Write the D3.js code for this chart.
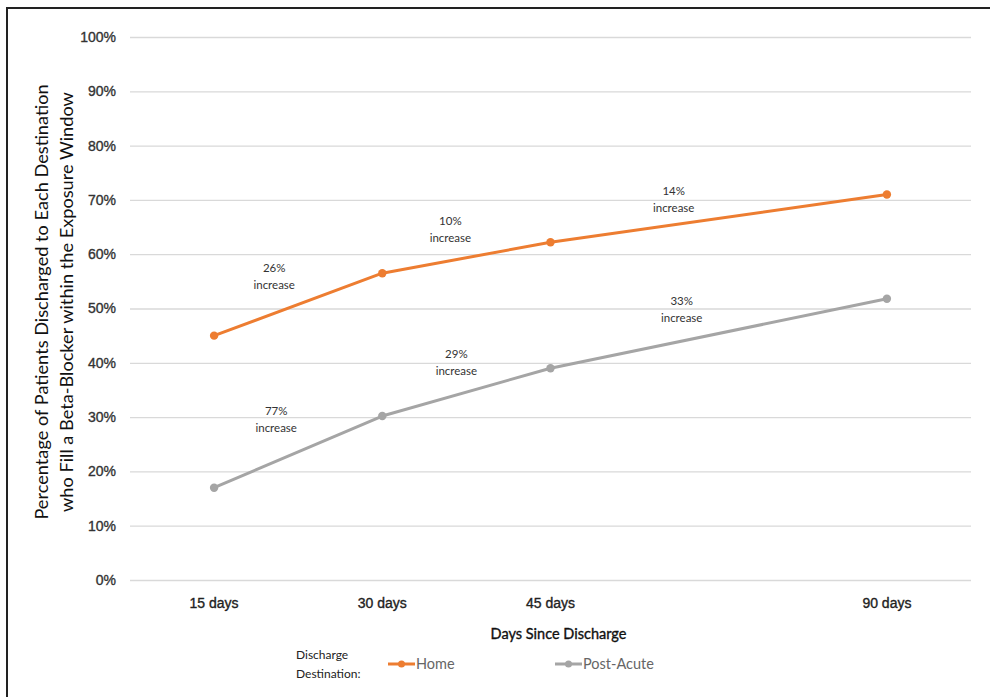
<!DOCTYPE html>
<html>
<head>
<meta charset="utf-8">
<script src="https://cdn.jsdelivr.net/npm/d3@7/dist/d3.min.js"></script>
<style>
  html, body { margin: 0; padding: 0; background: #fff; }
  svg { display: block; font-family: Lato, "Open Sans", sans-serif; }
</style>
</head>
<body>
<svg id="chart" width="990" height="697"></svg>
<script>
// Categories along the x axis (one unlabeled slot keeps 90 days spaced out)
const categories = ["15 days", "30 days", "45 days", "", "90 days"];
const pointDays = ["15 days", "30 days", "45 days", "90 days"];

// Share of patients filling a beta-blocker (%)
const homeValues = [45, 56.5, 62.2, 71];
const postAcuteValues = [17, 30.2, 39, 51.8];

// Relative increase between consecutive time points
const homeIncreases = ["26%", "10%", "14%"];
const postAcuteIncreases = ["77%", "29%", "33%"];

const yTicks = [0, 10, 20, 30, 40, 50, 60, 70, 80, 90, 100];

const series = [
  { name: "Home", values: homeValues, color: "#ED7D31", increases: homeIncreases },
  { name: "Post-Acute", values: postAcuteValues, color: "#A5A5A5", increases: postAcuteIncreases }
];

const svg = d3.select("#chart");

// outer frame
svg.append("rect")
  .attr("x", 7).attr("y", 8).attr("width", 990).attr("height", 700)
  .attr("fill", "none").attr("stroke", "#222").attr("stroke-width", 2);

const plotLeft = 130, plotRight = 971, plotTop = 37, plotBottom = 580;

const x = d3.scaleBand().domain(d3.range(categories.length)).range([plotLeft, plotRight]);
const xPos = label => x(categories.indexOf(label)) + x.bandwidth() / 2;
const y = d3.scaleLinear().domain([0, 100]).range([plotBottom, plotTop]);

// semi-bold look for axis text
const semi = sel => sel.attr("stroke-width", 0.35).attr("paint-order", "fill");

// gridlines + y tick labels
const yAxis = d3.axisLeft(y)
  .tickValues(yTicks)
  .tickSize(-(plotRight - plotLeft))
  .tickPadding(14)
  .tickFormat(d => d + "%");
const gy = svg.append("g").attr("transform", `translate(${plotLeft},0)`).call(yAxis);
gy.select(".domain").remove();
gy.selectAll(".tick line").attr("stroke", "#d9d9d9").attr("stroke-width", 1.3);
gy.selectAll(".tick text")
  .attr("fill", "#333").attr("stroke", "#333").attr("font-size", 14)
  .call(semi);

// x tick labels
const xAxis = d3.axisBottom(x).tickSize(0).tickPadding(18).tickFormat(i => categories[i]);
const gx = svg.append("g").attr("transform", `translate(0,${plotBottom})`).call(xAxis);
gx.select(".domain").remove();
gx.selectAll(".tick text")
  .attr("fill", "#222").attr("stroke", "#222").attr("font-size", 14)
  .call(semi);

// axis titles
svg.append("text")
  .attr("x", (plotLeft + plotRight) / 2 + 8).attr("y", 639)
  .attr("text-anchor", "middle").attr("font-size", 14.5)
  .attr("fill", "#111").attr("stroke", "#111").call(semi)
  .text("Days Since Discharge");

const yTitle = svg.append("text")
  .attr("transform", "translate(0,302) rotate(-90)")
  .attr("text-anchor", "middle").attr("font-size", 18.2).attr("fill", "#111");
yTitle.append("tspan").attr("x", 0).attr("y", 48)
  .text("Percentage of Patients Discharged to Each Destination");
yTitle.append("tspan").attr("x", 0).attr("y", 73)
  .text("who Fill a Beta-Blocker within the Exposure Window");

// lines and markers
const line = d3.line().x((d, i) => xPos(pointDays[i])).y(d => y(d));
series.forEach(s => {
  svg.append("path")
    .datum(s.values)
    .attr("d", line)
    .attr("fill", "none").attr("stroke", s.color)
    .attr("stroke-width", 3).attr("stroke-linejoin", "round");
  svg.selectAll(null).data(s.values).enter().append("circle")
    .attr("cx", (d, i) => xPos(pointDays[i])).attr("cy", d => y(d))
    .attr("r", 4.2).attr("fill", s.color);
});

// increase annotations: pixel offsets from each segment's midpoint
const annoOffsets = {
  "Home": [[-24, -32], [-16, -33], [-45, -23]],
  "Post-Acute": [[-22, -37], [-10, -34], [-37, -28]]
};
series.forEach(s => {
  s.increases.forEach((txt, i) => {
    const x0 = xPos(pointDays[i]), x1 = xPos(pointDays[i + 1]);
    const y0 = y(s.values[i]), y1 = y(s.values[i + 1]);
    const [dx, dy] = annoOffsets[s.name][i];
    const cx = (x0 + x1) / 2 + dx;
    const cy = (y0 + y1) / 2 + dy;
    const t = svg.append("text")
      .attr("text-anchor", "middle").attr("font-size", 11.5).attr("fill", "#333");
    t.append("tspan").attr("x", cx).attr("y", cy).text(txt);
    t.append("tspan").attr("x", cx).attr("y", cy + 17).text("increase");
  });
});

// legend
const lg = svg.append("g");
lg.append("text").attr("x", 296).attr("y", 659).attr("font-size", 12).attr("fill", "#222").text("Discharge");
lg.append("text").attr("x", 296).attr("y", 678).attr("font-size", 12).attr("fill", "#222").text("Destination:");
const legendItems = [{ s: series[0], x: 388 }, { s: series[1], x: 555 }];
legendItems.forEach(it => {
  lg.append("line").attr("x1", it.x).attr("x2", it.x + 27).attr("y1", 664).attr("y2", 664)
    .attr("stroke", it.s.color).attr("stroke-width", 3);
  lg.append("circle").attr("cx", it.x + 13.5).attr("cy", 664).attr("r", 3.5).attr("fill", it.s.color);
  lg.append("text").attr("x", it.x + 28).attr("y", 669).attr("font-size", 14.5)
    .attr("fill", "#666").text(it.s.name);
});
</script>
</body>
</html>
